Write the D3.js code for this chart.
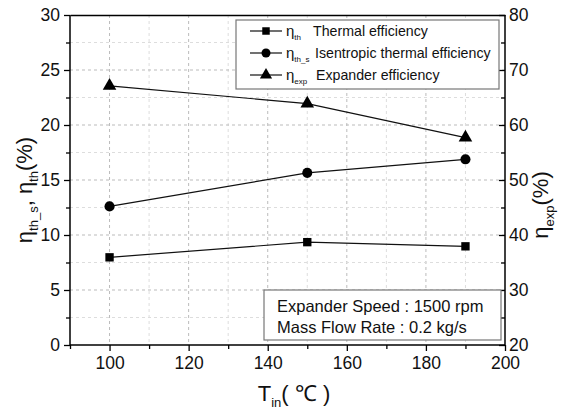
<!DOCTYPE html>
<html><head><meta charset="utf-8">
<script src="https://cdn.jsdelivr.net/npm/d3@7"></script>
<style>body{margin:0;background:#fff}svg, svg text{font-family:"Liberation Sans",Arial,sans-serif}</style>
</head><body><svg id="c" width="565" height="414"></svg>
<script>
const temps = [100, 150, 190];
const thermal = [7.97, 9.35, 8.97];
const isentropic = [12.6, 15.65, 16.88];
const expander = [67.1, 63.9, 57.7];
const xTicks = [100, 120, 140, 160, 180, 200];
const yLeftTicks = [0, 5, 10, 15, 20, 25, 30];
const yRightTicks = [20, 30, 40, 50, 60, 70, 80];
const legendLabels = ["Thermal efficiency", "Isentropic thermal efficiency", "Expander efficiency"];
const legendSubs = ["th", "th_s", "exp"];
const infoLines = ["Expander Speed : 1500 rpm", "Mass Flow Rate : 0.2 kg/s"];

const FONT = "Liberation Sans, Arial, sans-serif";
const svg = d3.select("#c");
const L = 70, R = 505, T = 15, B = 345;
const x = d3.scaleLinear().domain([90, 200]).range([L, R]);
const yL = d3.scaleLinear().domain([0, 30]).range([B, T]);
const yR = d3.scaleLinear().domain([20, 80]).range([B, T]);

// grid
const g = svg.append("g");
d3.range(100, 200, 10).forEach(v => {
  g.append("line").attr("x1", x(v)).attr("x2", x(v)).attr("y1", T).attr("y2", B)
    .attr("stroke", v % 20 === 0 ? "#bbb" : "#ddd").attr("stroke-width", 1).attr("stroke-dasharray", "3,3");
});
d3.range(2.5, 30, 2.5).forEach(v => {
  g.append("line").attr("x1", L).attr("x2", R).attr("y1", yL(v)).attr("y2", yL(v))
    .attr("stroke", v % 5 === 0 ? "#bbb" : "#ddd").attr("stroke-width", 1).attr("stroke-dasharray", "3,3");
});

// axes
const fs = "17.5px";
const ax = svg.append("g").attr("transform", `translate(0,${B})`)
  .call(d3.axisBottom(x).tickValues(xTicks).tickSize(6).tickPadding(6).tickFormat(d3.format("d")));
const axm = svg.append("g").attr("transform", `translate(0,${B})`)
  .call(d3.axisBottom(x).tickValues(d3.range(90, 200, 20)).tickSize(4).tickFormat(""));
const ayl = svg.append("g").attr("transform", `translate(${L},0)`)
  .call(d3.axisLeft(yL).tickValues(yLeftTicks).tickSize(6).tickPadding(4));
const aylm = svg.append("g").attr("transform", `translate(${L},0)`)
  .call(d3.axisLeft(yL).tickValues(d3.range(2.5, 30, 5)).tickSize(4).tickFormat(""));
const ayr = svg.append("g").attr("transform", `translate(${R},0)`)
  .call(d3.axisRight(yR).tickValues(yRightTicks).tickSize(-6).tickPadding(10));
const ayrm = svg.append("g").attr("transform", `translate(${R},0)`)
  .call(d3.axisRight(yR).tickValues(d3.range(25, 80, 10)).tickSize(-4).tickFormat(""));
const axt = svg.append("g").attr("transform", `translate(0,${T})`)
  .call(d3.axisTop(x).tickValues([]).tickSizeOuter(0));
[ax, axm, ayl, aylm, ayr, ayrm, axt].forEach(a => {
  a.attr("font-family", FONT);
  a.selectAll("path").attr("stroke", "#000").attr("stroke-width", 1.5);
  a.selectAll("line").attr("stroke", "#000").attr("stroke-width", 1.3);
  a.selectAll("text").attr("font-size", fs).attr("fill", "#111").attr("font-family", FONT);
});
[axm, aylm, ayrm].forEach(a => a.select("path").remove());
ax.select("path").attr("d", `M${L},0H${R}`);
ayl.select("path").attr("d", `M0,${T}V${B}`);
ayr.select("path").attr("d", `M0,${T}V${B}`);
ayr.selectAll("text").attr("x", 4);

// series
const sets = [
  {vals: thermal, y: yL, sym: d3.symbolSquare, size: 70},
  {vals: isentropic, y: yL, sym: d3.symbolCircle, size: 80},
  {vals: expander, y: yR, sym: d3.symbolTriangle, size: 80}
];
sets.forEach(s => {
  const data = temps.map((t, i) => [t, s.vals[i]]);
  svg.append("path").datum(data)
    .attr("d", d3.line().x(d => x(d[0])).y(d => s.y(d[1])))
    .attr("fill", "none").attr("stroke", "#111").attr("stroke-width", 1.2);
  svg.selectAll(null).data(data).enter().append("path")
    .attr("d", d3.symbol().type(s.sym).size(s.size))
    .attr("transform", d => `translate(${x(d[0])},${s.y(d[1])})`)
    .attr("fill", "#000");
});

// legend
const lg = svg.append("g").attr("font-family", FONT);
lg.append("rect").attr("x", 236).attr("y", 20).attr("width", 263).attr("height", 69)
  .attr("fill", "#fff").attr("stroke", "#777").attr("stroke-width", 1.2);
const rowsY = [31, 53, 75];
const textX = [313, 315, 316];
sets.forEach((s, i) => {
  const yy = rowsY[i];
  lg.append("line").attr("x1", 250).attr("x2", 282).attr("y1", yy).attr("y2", yy)
    .attr("stroke", "#111").attr("stroke-width", 1.2);
  lg.append("path").attr("d", d3.symbol().type(s.sym).size(s.size * 0.8))
    .attr("transform", `translate(266,${yy})`).attr("fill", "#000");
  const t = lg.append("text").attr("x", 286).attr("y", yy + 5).attr("font-size", "15px").attr("fill", "#111");
  t.append("tspan").text("η");
  t.append("tspan").attr("font-size", "8px").attr("dy", 4).text(legendSubs[i]);
  lg.append("text").attr("x", textX[i]).attr("y", yy + 5).attr("font-size", "14.2px").attr("fill", "#111").text(legendLabels[i]);
});

// info box
svg.append("rect").attr("x", 264).attr("y", 290).attr("width", 237).attr("height", 50)
  .attr("fill", "#fff").attr("stroke", "#777").attr("stroke-width", 1.2);
infoLines.forEach((t, i) => {
  svg.append("text").attr("x", 277).attr("y", 312 + i * 21).attr("font-size", "16.5px")
    .attr("font-family", FONT).attr("fill", "#111").text(t);
});

// axis titles
const yt = svg.append("text").attr("transform", "translate(32,190) rotate(-90)")
  .attr("text-anchor", "middle").attr("font-size", "22px").attr("font-family", FONT).attr("fill", "#111");
yt.append("tspan").text("η");
yt.append("tspan").attr("font-size", "13px").attr("dy", 6).text("th_s");
yt.append("tspan").attr("dy", -6).text(", η");
yt.append("tspan").attr("font-size", "13px").attr("dy", 6).text("th");
yt.append("tspan").attr("dy", -6).text("(%)");

const rt = svg.append("text").attr("transform", "translate(548,205) rotate(-90)")
  .attr("text-anchor", "middle").attr("font-size", "22px").attr("font-family", FONT).attr("fill", "#111");
rt.append("tspan").text("η");
rt.append("tspan").attr("font-size", "13px").attr("dy", 6).text("exp");
rt.append("tspan").attr("dy", -6).text("(%)");

const xt = svg.append("text").attr("x", 294).attr("y", 401)
  .attr("text-anchor", "middle").attr("font-size", "22px").attr("font-family", FONT).attr("fill", "#111");
xt.append("tspan").text("T");
xt.append("tspan").attr("font-size", "13px").attr("dy", 6).text("in");
xt.append("tspan").attr("dy", -6).text("( ℃ )");
</script></body></html>
